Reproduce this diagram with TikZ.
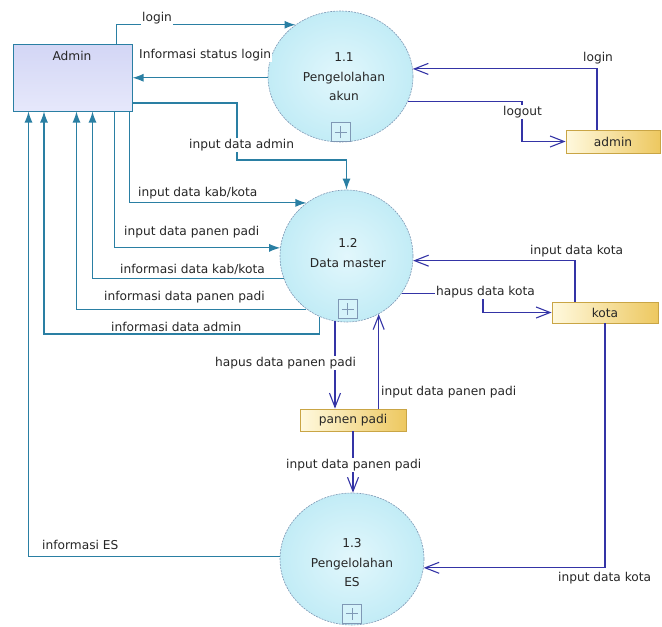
\documentclass[tikz,border=0pt]{standalone}
\usepackage{fontspec}
\setmainfont{DejaVu Sans}
\usetikzlibrary{shapes.geometric,arrows.meta,calc}
\definecolor{tealc}{HTML}{2A7FA3}
\definecolor{bluec}{HTML}{3434A6}
\definecolor{procb}{HTML}{7F98B5}
\definecolor{storeb}{HTML}{C9A545}
\definecolor{storel}{HTML}{FFF9DE}
\definecolor{storer}{HTML}{EDC860}
\definecolor{admtop}{HTML}{D3D6F5}
\definecolor{admbot}{HTML}{E6E8FB}
\definecolor{procin}{HTML}{E2F7FC}
\definecolor{procout}{HTML}{C2ECF6}
\begin{document}
\begin{tikzpicture}[x=1pt,y=-1pt,
  font=\fontsize{12.2}{14}\selectfont,
  flow/.style={draw=tealc, line width=1.1pt, -{Latex[length=11pt,width=8pt]}},
  bflow/.style={draw=bluec, line width=1.1pt, -{Straight Barb[length=14pt,width=11pt]}},
  lbl/.style={fill=white, inner sep=1pt, anchor=west, text=black!85},
  proc/.style={ellipse, draw=procb, line width=0.6pt, dash pattern=on 2pt off 1pt,
    inner color=procin, outer color=procout, inner sep=0pt},
  ptext/.style={align=center, inner sep=0pt, text=black!85, font=\fontsize{12.2}{19.5}\selectfont},
  plusbox/.style={rectangle, draw=procb, line width=0.6pt, fill=procin!60!procout,
    minimum width=19pt, minimum height=19pt, inner sep=0pt,
    path picture={\draw[procb, line width=0.7pt]
      ($(path picture bounding box.center)+(-6pt,0pt)$) -- ($(path picture bounding box.center)+(6pt,0pt)$)
      ($(path picture bounding box.center)+(0pt,-6pt)$) -- ($(path picture bounding box.center)+(0pt,6pt)$);}},
  store/.style={rectangle, draw=storeb, line width=0.8pt, left color=storel, right color=storer,
    inner sep=0pt, text=black!85},
  adminbox/.style={rectangle, draw=tealc, line width=1pt, top color=admtop, bottom color=admbot,
    minimum width=119pt, minimum height=67pt, inner sep=0pt}
]
\useasboundingbox (0,0) rectangle (662,627);

% entity
\node[adminbox] (admin) at (72.5,77.5) {};
\node[text=black!85, inner sep=0pt] (admintxt) at (72,56) {Admin};

% processes
\node[proc, minimum width=145pt, minimum height=131pt] (p11) at (340.5,76.5) {};
\node[ptext] (t11) at (344,77) {1.1\\Pengelolahan\\akun};
\node[plusbox] (plus1) at (340.5,132) {};

\node[proc, minimum width=133pt, minimum height=132pt] (p12) at (346.5,256) {};
\node[ptext] (t12) at (348,253) {1.2\\Data master};
\node[plusbox] (plus2) at (347.5,309) {};

\node[proc, minimum width=144pt, minimum height=132pt] (p13) at (352,559) {};
\node[ptext] (t13) at (352,563) {1.3\\Pengelolahan\\ES};
\node[plusbox] (plus3) at (352,613.5) {};

% data stores
\node[store, minimum width=94pt, minimum height=23pt] (sadmin) at (613,141.5) {admin};
\node[store, minimum width=106pt, minimum height=21pt] (skota) at (605,312.5) {kota};
\node[store, minimum width=106pt, minimum height=22pt] (spanen) at (353,420) {panen padi};

% teal flows (Admin)
\draw[flow] ([xshift=104pt]admin.north west) |- (p11.131);
\draw[flow] (p11.181) -- (admin.east |- p11.181);
\draw[flow] ([yshift=-25.5pt]admin.east) -| (237,160) -| (p12.north);
\draw[flow] ([xshift=-3pt]admin.south east) |- (p12.127);
\draw[flow] ([xshift=-18pt]admin.south east) |- (p12.173);
\draw[flow] (p12.200) -| ([xshift=80pt]admin.south west);
\draw[flow] (p12.233) -| ([xshift=64pt]admin.south west);
\coordinate (c8) at (44,334);
\draw[flow] (p12.246) |- (c8) -- (c8 |- admin.south);
\draw[flow] (p13.178) -| ([xshift=16pt]admin.south west);

% blue flows (stores)
\draw[bflow] ([xshift=-16pt]sadmin.north) |- (p11.6);
\draw[bflow] (p11.340) -| (522,120) |- (sadmin.west);
\draw[bflow] ([xshift=-30pt]skota.north) |- (p12.356);
\draw[bflow] (p12.326) -| (483,300) |- (skota.west);
\draw[bflow] (p12.260) -- (p12.260 |- spanen.north);
\draw[bflow] (p12.299 |- spanen.north) -- (p12.299);
\draw[bflow] (spanen.south) -- (spanen.south |- p13.north);
\draw[bflow] (skota.south) |- (p13.353);

% labels
\node[lbl] (l1) at (141,18) {login};
\node[lbl] (l2) at (138,55) {Informasi status login};
\node[lbl] (l3) at (188,145) {input data admin};
\node[lbl] (l4) at (137,193) {input data kab/kota};
\node[lbl] (l5) at (123,232) {input data panen padi};
\node[lbl] (l6) at (119,269) {informasi data kab/kota};
\node[lbl] (l7) at (103,297) {informasi data panen padi};
\node[lbl] (l8) at (110,327) {informasi data admin};
\node[lbl] (l9) at (41,545) {informasi ES};
\node[lbl] (l10) at (582,58) {login};
\node[lbl] (l11) at (502,112) {logout};
\node[lbl] (l12) at (529,251) {input data kota};
\node[lbl] (l13) at (435,292) {hapus data kota};
\node[lbl] (l14) at (214,363) {hapus data panen padi};
\node[lbl] (l15) at (380,392) {input data panen padi};
\node[lbl] (l16) at (285,465) {input data panen padi};
\node[lbl] (l17) at (557,578) {input data kota};
\end{tikzpicture}
\end{document}
